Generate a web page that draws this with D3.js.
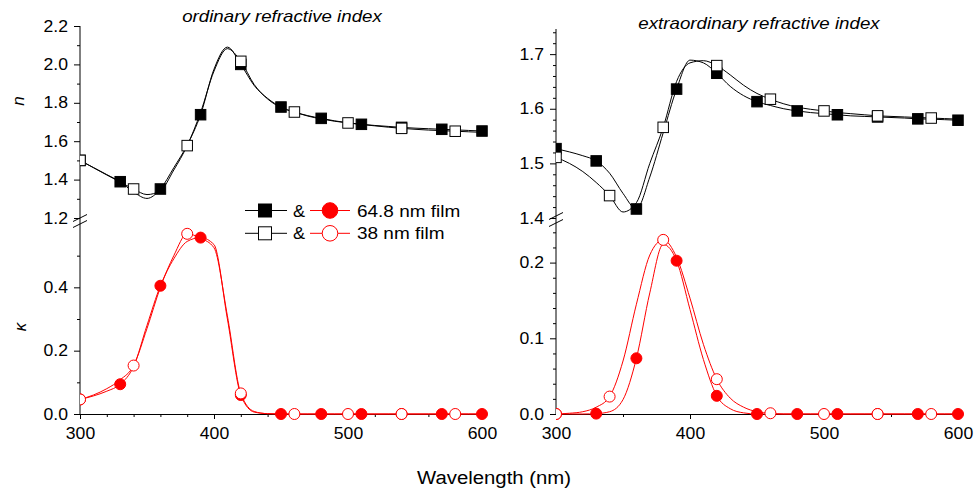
<!DOCTYPE html>
<html>
<head>
<meta charset="utf-8">
<script src="https://cdn.jsdelivr.net/npm/d3@7"></script>
<style>
  html, body { margin: 0; padding: 0; background: #fff; }
  svg text { font-family: "Liberation Sans", Arial, Helvetica, sans-serif; fill: #000; }
</style>
</head>
<body>
<svg id="chart" width="976" height="492"></svg>
<script>
// Wavelength grid (nm) for the fitted dispersion curves
const wavelength = [300,310,320,330,340,350,360,370,380,390,400,410,420,430,440,450,460,470,480,490,500,510,520,530,540,550,560,570,580,590,600];

// Ordinary refractive index n_o
const nOrd648 = [1.500,1.463,1.426,1.389,1.335,1.302,1.351,1.462,1.580,1.738,1.975,2.090,2.000,1.890,1.823,1.778,1.752,1.733,1.719,1.706,1.696,1.688,1.682,1.677,1.672,1.668,1.665,1.662,1.659,1.656,1.653];
const nOrd38  = [1.500,1.462,1.424,1.387,1.351,1.322,1.342,1.450,1.577,1.750,1.965,2.082,2.016,1.895,1.820,1.775,1.752,1.731,1.716,1.704,1.695,1.687,1.680,1.673,1.667,1.662,1.658,1.655,1.652,1.649,1.646];
// Ordinary extinction coefficient k_o
const kOrd648 = [0.046,0.057,0.072,0.094,0.150,0.280,0.405,0.490,0.545,0.557,0.535,0.300,0.060,0.006,0.001,0,0,0,0,0,0,0,0,0,0,0,0,0,0,0,0];
const kOrd38  = [0.046,0.060,0.080,0.108,0.153,0.270,0.400,0.500,0.569,0.555,0.525,0.310,0.065,0.008,0.001,0,0,0,0,0,0,0,0,0,0,0,0,0,0,0,0];

// Extraordinary refractive index n_e
const nExt648 = [1.527,1.521,1.514,1.5045,1.482,1.445,1.4165,1.475,1.556,1.636,1.689,1.684,1.665,1.641,1.624,1.613,1.606,1.600,1.596,1.593,1.591,1.589,1.587,1.586,1.585,1.584,1.583,1.5815,1.581,1.580,1.579];
const nExt38  = [1.511,1.500,1.485,1.465,1.441,1.411,1.428,1.500,1.566,1.650,1.684,1.688,1.679,1.662,1.643,1.628,1.6175,1.609,1.603,1.599,1.596,1.593,1.591,1.589,1.587,1.586,1.585,1.584,1.583,1.582,1.581];
// Extraordinary extinction coefficient k_e
const kExt648 = [0,0,0,0.0005,0.003,0.019,0.0736,0.160,0.224,0.2025,0.138,0.072,0.024,0.007,0.0015,0,0,0,0,0,0,0,0,0,0,0,0,0,0,0,0];
const kExt38  = [0,0.001,0.003,0.009,0.023,0.070,0.145,0.210,0.230,0.207,0.153,0.092,0.046,0.021,0.009,0.003,0.001,0,0,0,0,0,0,0,0,0,0,0,0,0,0];

// Wavelengths carrying a symbol on each curve
const marks648 = [300,330,360,390,420,450,480,510,540,570,600];
const marks38  = [300,340,380,420,460,500,540,580];

// Axis ticks
const xTicks = [300,400,500,600];
const xMinorOrd = [320,340,360,380,420,440,460,480,520,540,560,580];
const xMinorExt = [350,450,550];
const nOrdTicks = [1.2,1.4,1.6,1.8,2.0,2.2];
const nOrdMinor = [1.3,1.5,1.7,1.9,2.1];
const kOrdTicks = [0.0,0.2,0.4];
const kOrdMinor = [0.1,0.3,0.5];
const nExtTicks = [1.4,1.5,1.6,1.7];
const nExtMinor = [1.42,1.44,1.46,1.48,1.52,1.54,1.56,1.58,1.62,1.64,1.66,1.68,1.72,1.74];
const kExtTicks = [0.0,0.1,0.2];
const kExtMinor = [0.02,0.04,0.06,0.08,0.12,0.14,0.16,0.18,0.22,0.24];

const legendRows = [
  { label: "64.8 nm film", open: false },
  { label: "38 nm film", open: true }
];

const RED = "#ff0000";
const SX = 1.1;          // horizontal text stretch
const FONT = 16;

const svg = d3.select("#chart");

function stretchText(sel) {
  sel.selectAll("text").each(function () {
    const t = d3.select(this);
    const x = +t.attr("x") || 0, y = +t.attr("y") || 0;
    t.attr("x", 0).attr("y", 0).attr("transform", `translate(${x},${y}) scale(${SX},1)`);
  });
}

function styleAxis(g) {
  g.selectAll("line").attr("stroke", "#000").attr("stroke-width", 1);
  g.selectAll("path").attr("stroke", "#000").attr("stroke-width", 1);
  g.selectAll("text").attr("font-size", FONT).attr("fill", "#000");
}

const panels = [
  {
    id: "ord", title: "ordinary refractive index", titleX: 282, titleY: 22,
    x0: 80, x1: 482, xMinor: xMinorOrd,
    nDomain: [1.2, 2.2], nRange: [218, 26], nTicks: nOrdTicks, nMinor: nOrdMinor,
    kDomain: [0, 0.6], kRange: [414, 224], kTicks: kOrdTicks, kMinor: kOrdMinor,
    n648: nOrd648, n38: nOrd38, k648: kOrd648, k38: kOrd38,
    breakY: [218, 224]
  },
  {
    id: "ext", title: "extraordinary refractive index", titleX: 759, titleY: 29,
    x0: 556, x1: 958, xMinor: xMinorExt,
    nDomain: [1.4, 1.746], nRange: [218, 29], nTicks: nExtTicks, nMinor: nExtMinor,
    kDomain: [0, 0.25], kRange: [414, 224.75], kTicks: kExtTicks, kMinor: kExtMinor,
    n648: nExt648, n38: nExt38, k648: kExt648, k38: kExt38,
    breakY: [216, 223]
  }
];

panels.forEach(cfg => {
  const g = svg.append("g");
  const x = d3.scaleLinear().domain([300, 600]).range([cfg.x0, cfg.x1]);
  const yN = d3.scaleLinear().domain(cfg.nDomain).range(cfg.nRange);
  const yK = d3.scaleLinear().domain(cfg.kDomain).range(cfg.kRange);

  // title
  g.append("text")
    .attr("transform", `translate(${cfg.titleX},${cfg.titleY}) scale(1.17,1)`)
    .attr("text-anchor", "middle").attr("font-size", 16).attr("font-style", "italic")
    .text(cfg.title);

  // y spine (continuous through the break)
  g.append("line")
    .attr("x1", cfg.x0).attr("x2", cfg.x0)
    .attr("y1", cfg.nRange[1]).attr("y2", cfg.kRange[0])
    .attr("stroke", "#000").attr("stroke-width", 1);

  // n axis
  const nAx = g.append("g").attr("transform", `translate(${cfg.x0},0)`)
    .call(d3.axisLeft(yN).tickValues(cfg.nTicks).tickSize(6).tickPadding(6).tickFormat(d3.format(".1f")));
  nAx.select(".domain").remove();
  styleAxis(nAx); stretchText(nAx);
  const nAxM = g.append("g").attr("transform", `translate(${cfg.x0},0)`)
    .call(d3.axisLeft(yN).tickValues(cfg.nMinor).tickSize(3).tickFormat(""));
  nAxM.select(".domain").remove();
  styleAxis(nAxM);

  // k axis
  const kAx = g.append("g").attr("transform", `translate(${cfg.x0},0)`)
    .call(d3.axisLeft(yK).tickValues(cfg.kTicks).tickSize(6).tickPadding(6).tickFormat(d3.format(".1f")));
  kAx.select(".domain").remove();
  styleAxis(kAx); stretchText(kAx);
  const kAxM = g.append("g").attr("transform", `translate(${cfg.x0},0)`)
    .call(d3.axisLeft(yK).tickValues(cfg.kMinor).tickSize(3).tickFormat(""));
  kAxM.select(".domain").remove();
  styleAxis(kAxM);

  // break marks on the y spine
  cfg.breakY.forEach(by => {
    g.append("line")
      .attr("x1", cfg.x0 - 7).attr("y1", by + 3.5)
      .attr("x2", cfg.x0 + 7).attr("y2", by - 3.5)
      .attr("stroke", "#000").attr("stroke-width", 1);
  });

  // x axis
  const xAx = g.append("g").attr("transform", `translate(0,${cfg.kRange[0]})`)
    .call(d3.axisBottom(x).tickValues(xTicks).tickSize(5).tickSizeOuter(0).tickPadding(9).tickFormat(d3.format("d")));
  styleAxis(xAx); stretchText(xAx);
  const xAxM = g.append("g").attr("transform", `translate(0,${cfg.kRange[0]})`)
    .call(d3.axisBottom(x).tickValues(cfg.xMinor).tickSize(3).tickFormat(""));
  xAxM.select(".domain").remove();
  styleAxis(xAxM);

  // plot content, clipped at the y spine
  const clipId = "clip-" + cfg.id;
  svg.append("clipPath").attr("id", clipId)
    .append("rect").attr("x", cfg.x0).attr("y", 0).attr("width", 470).attr("height", 492);
  const plot = g.append("g").attr("clip-path", `url(#${clipId})`);

  const curve = (vals, ys) => d3.line()
    .x((d, i) => x(wavelength[i])).y(d => ys(d))
    .curve(d3.curveMonotoneX)(vals);

  const pts = (vals, marks) => marks.map(w => ({ w, v: vals[wavelength.indexOf(w)] }));

  // curves
  [cfg.n648, cfg.n38].forEach(vals => {
    plot.append("path").attr("d", curve(vals, yN))
      .attr("fill", "none").attr("stroke", "#000").attr("stroke-width", 1);
  });
  [cfg.k648, cfg.k38].forEach(vals => {
    plot.append("path").attr("d", curve(vals, yK))
      .attr("fill", "none").attr("stroke", RED).attr("stroke-width", 1);
  });

  // n symbols: squares
  const sq = 10.5;
  [[cfg.n648, marks648, "#000"], [cfg.n38, marks38, "#fff"]].forEach(([vals, marks, fill]) => {
    plot.selectAll(null).data(pts(vals, marks)).enter().append("rect")
      .attr("x", d => x(d.w) - sq / 2).attr("y", d => yN(d.v) - sq / 2)
      .attr("width", sq).attr("height", sq)
      .attr("fill", fill).attr("stroke", "#000").attr("stroke-width", 1);
  });
  // k symbols: circles
  [[cfg.k648, marks648, RED], [cfg.k38, marks38, "#fff"]].forEach(([vals, marks, fill]) => {
    plot.selectAll(null).data(pts(vals, marks)).enter().append("circle")
      .attr("cx", d => x(d.w)).attr("cy", d => yK(d.v)).attr("r", 5.5)
      .attr("fill", fill).attr("stroke", RED).attr("stroke-width", 1);
  });
});

// y titles
svg.append("text")
  .attr("transform", "translate(24,101) rotate(-90)")
  .attr("text-anchor", "middle").attr("font-size", 17).attr("font-style", "italic")
  .text("n");
svg.append("text")
  .attr("transform", "translate(26,327) rotate(-90)")
  .attr("text-anchor", "middle").attr("font-size", 17).attr("font-style", "italic")
  .text("κ");

// x title
svg.append("text")
  .attr("transform", `translate(494,484) scale(1.13,1)`)
  .attr("text-anchor", "middle").attr("font-size", 18)
  .text("Wavelength (nm)");

// legend
const leg = svg.append("g");
const rowY = [210.5, 233.3];
legendRows.forEach((row, i) => {
  const y = rowY[i];
  const r = leg.append("g").attr("transform", `translate(0,${y})`);
  r.append("line").attr("x1", 245).attr("x2", 287).attr("y1", 0).attr("y2", 0)
    .attr("stroke", "#000").attr("stroke-width", 1);
  r.append("rect").attr("x", 265 - 6.5).attr("y", -6.5).attr("width", 13).attr("height", 13)
    .attr("fill", row.open ? "#fff" : "#000").attr("stroke", "#000").attr("stroke-width", 1);
  r.append("text").attr("transform", `translate(293,6) scale(${SX},1)`)
    .attr("font-size", FONT + 0.5).text("&");
  r.append("line").attr("x1", 310).attr("x2", 350).attr("y1", 0).attr("y2", 0)
    .attr("stroke", RED).attr("stroke-width", 1);
  r.append("circle").attr("cx", 330).attr("cy", 0).attr("r", 7.8)
    .attr("fill", row.open ? "#fff" : RED).attr("stroke", RED).attr("stroke-width", 1);
  r.append("text").attr("transform", `translate(357,6) scale(1.15,1)`)
    .attr("font-size", FONT + 0.5).text(row.label);
});
</script>
</body>
</html>
